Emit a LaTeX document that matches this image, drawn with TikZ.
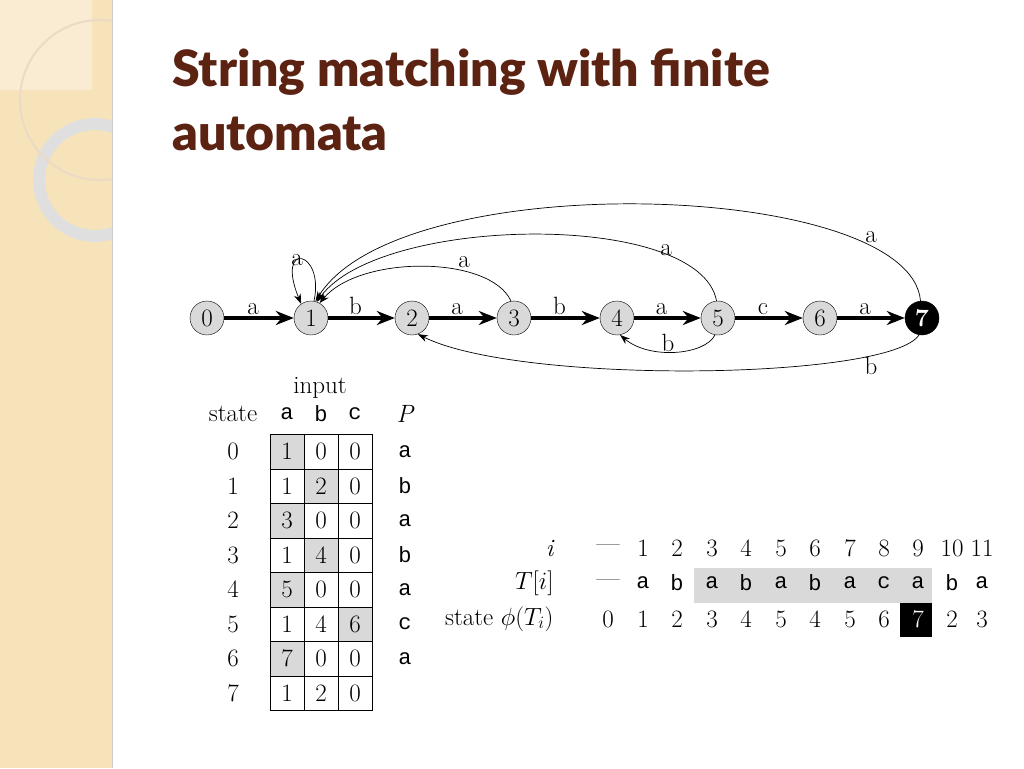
\documentclass[tikz,border=0pt]{standalone}
\usepackage{fontspec}
\newfontfamily\titlefont{Lato Black}
\newfontfamily\lmono{Liberation Mono}
\usetikzlibrary{arrows.meta}
\definecolor{beige}{HTML}{F6E3BA}
\definecolor{titlec}{HTML}{5C2212}
\definecolor{cellg}{HTML}{D9D9D9}
\begin{document}
\begin{tikzpicture}[x=1pt,y=-1pt,
  st/.style={circle,draw,fill=cellg,minimum size=34pt,inner sep=0pt,font=\fontsize{25}{25}\selectfont},
  thk/.style={line width=3.4pt,-{Stealth[length=18pt,width=14pt]}},
  thn/.style={line width=0.7pt,-{Stealth[length=10pt,width=7pt]}},
  lb/.style={font=\fontsize{25}{25}\selectfont},
  tt/.style={font=\lmono\fontsize{22}{22}\selectfont},
  cell/.style={draw,minimum width=34pt,minimum height=34.5pt,inner sep=0pt,font=\fontsize{25}{25}\selectfont},
  tx/.style={font=\fontsize{25}{25}\selectfont}]
\useasboundingbox (0,0) rectangle (1024,768);
\fill[white] (0,0) rectangle (1024,768);
% side panel
\begin{scope}
\clip (0,0) rectangle (112,768);
\fill[beige] (0,0) rectangle (112,768);
\fill[white,opacity=0.35] (0,0) rectangle (92,90);
\draw[line width=12pt,color=gray!25] (95,180) circle (56);
\draw[line width=2pt,color=white!70!brown] (100,100) circle (80);
\end{scope}
\draw[color=gray!40,line width=1pt] (112,0) -- (112,768);
% title
\node[anchor=base west,inner sep=0pt,text=titlec,font=\titlefont\fontsize{50}{50}\selectfont] (t1) at (172,86) {String matching with finite};
\node[anchor=base west,inner sep=0pt,text=titlec,font=\titlefont\fontsize{50}{50}\selectfont] (t2) at (172,150) {automata};
% automaton
\node[st] (s0) at (207,318) {0};
\node[st] (s1) at (311,318) {1};
\node[st] (s2) at (412,318) {2};
\node[st] (s3) at (514,318) {3};
\node[st] (s4) at (617,318) {4};
\node[st] (s5) at (718,318) {5};
\node[st] (s6) at (820,318) {6};
\node[st,fill=black,text=white,font=\bfseries\fontsize{25}{25}\selectfont] (s7) at (922,318) {7};
\draw[thk] (s0) -- node[lb,above,xshift=-6pt,yshift=-2pt] {a} (s1);
\draw[thk] (s1) -- node[lb,above,xshift=-6pt,yshift=-2pt] {b} (s2);
\draw[thk] (s2) -- node[lb,above,xshift=-6pt,yshift=-2pt] {a} (s3);
\draw[thk] (s3) -- node[lb,above,xshift=-6pt,yshift=-2pt] {b} (s4);
\draw[thk] (s4) -- node[lb,above,xshift=-6pt,yshift=-2pt] {a} (s5);
\draw[thk] (s5) -- node[lb,above,xshift=-6pt,yshift=-2pt] {c} (s6);
\draw[thk] (s6) -- node[lb,above,xshift=-6pt,yshift=-2pt] {a} (s7);
\draw[thn] (s1.80) .. controls (325,250) and (275,240) .. (s1.125);
\node[lb] (la1) at (297,260) {a};
\draw[thn] (s3.100) .. controls (490,255) and (360,255) .. (s1.60);
\node[lb] (la3) at (464,262) {a};
\draw[thn] (s5.95) .. controls (700,210) and (380,215) .. (s1.70);
\node[lb] (la5) at (666,250) {a};
\draw[thn] (s7.95) .. controls (910,180) and (400,165) .. (s1.75);
\node[lb] (la7) at (871,237) {a};
\draw[thn] (s5.260) .. controls (705,355) and (650,360) .. (s4.280);
\node[lb] (lb5) at (668,343) {b};
\draw[thn] (s7.260) .. controls (890,380) and (520,385) .. (s2.290);
\node[lb] (lb7) at (871,366) {b};
% transition table
\node[tx] (hin) at (320,388) {input};
\node[tx] (hst) at (233,414) {state};
\node[tt] (ha) at (287,414) {a};
\node[tt] (hb) at (321,414) {b};
\node[tt] (hc) at (355,414) {c};
\node[tx,font=\itshape\fontsize{25}{25}\selectfont] (hp) at (405,414) {P};
\foreach \r/\a/\b/\c/\p/\fa/\fb/\fc in {0/1/0/0/a/cellg/white/white,1/1/2/0/b/white/cellg/white,2/3/0/0/a/cellg/white/white,3/1/4/0/b/white/cellg/white,4/5/0/0/a/cellg/white/white,5/1/4/6/c/white/white/cellg,6/7/0/0/a/cellg/white/white,7/1/2/0/{}/white/white/white}{
  \pgfmathsetmacro\yy{451.5+34.5*\r}
  \node[tx] (rs\r) at (233,\yy) {\r};
  \node[cell,fill=\fa] (ca\r) at (287,\yy) {\a};
  \node[cell,fill=\fb] (cb\r) at (321,\yy) {\b};
  \node[cell,fill=\fc] (cc\r) at (355,\yy) {\c};
  \node[tt] (cp\r) at (405,\yy) {\p};
}
% run table
\fill[cellg] (694,568) rectangle (932,603);
\fill[black] (900,603) rectangle (932,637);
\node[tx,anchor=east,font=\itshape\fontsize{25}{25}\selectfont] (ri) at (557,548) {i};
\node[tx,anchor=east] (rt) at (557,583) {$T[i]$};
\node[tx,anchor=east] (rp) at (557,619) {state $\phi(T_i)$};
\node[tx] (ni0) at (608,548) {---};
\node[tx] (nt0) at (608,583) {---};
\node[tx] (ns0) at (608,619) {0};
\foreach \x/\i/\tv/\sv/\sc in {643/1/a/1/black,677/2/b/2/black,712/3/a/3/black,746/4/b/4/black,781/5/a/5/black,815/6/b/4/black,850/7/a/5/black,884/8/c/6/black,918/9/a/7/white,952/10/b/2/black,982/11/a/3/black}{
  \node[tx] (ni\i) at (\x,548) {\i};
  \node[tt] (nt\i) at (\x,583) {\tv};
  \node[tx,text=\sc] (ns\i) at (\x,619) {\sv};
}
\end{tikzpicture}
\end{document}
